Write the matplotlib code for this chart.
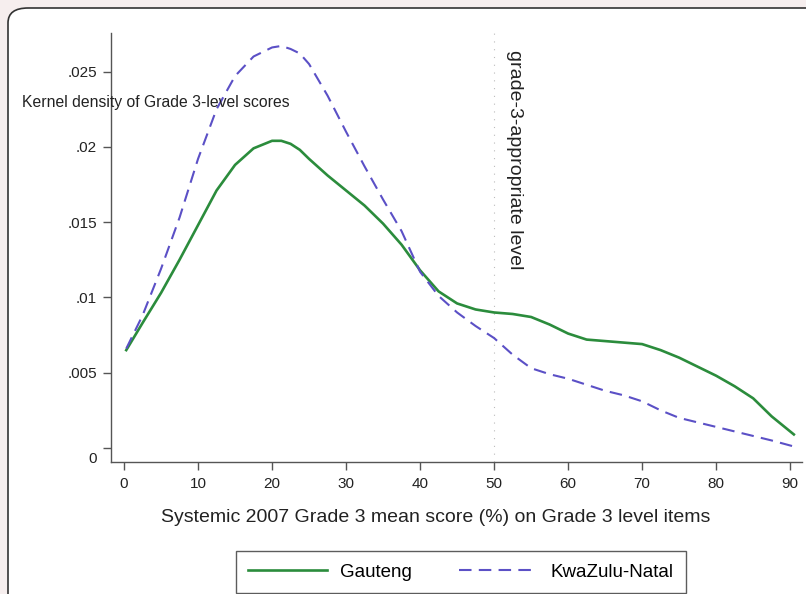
import matplotlib
matplotlib.use("Agg")
from matplotlib import pyplot as plt
from matplotlib.patches import FancyBboxPatch
from matplotlib.transforms import ScaledTranslation

plt.rcParams['font.family'] = ['Liberation Sans', 'DejaVu Sans']

# Kernel density curves
score = [0.3, 2.5, 5, 7.5, 10, 12.5, 15, 17.5, 20, 21.25, 22.5, 23.75, 25, 27.5, 30, 32.5,
         35, 37.5, 40, 42.5, 45, 47.5, 50, 52.5, 55, 57.5, 60, 62.5, 65, 67.5, 70, 72.5,
         75, 77.5, 80, 82.5, 85, 87.5, 90.5]
gauteng = [0.0065, 0.0083, 0.0103, 0.0125, 0.0148, 0.0171, 0.0188, 0.0199, 0.0204, 0.0204,
           0.0202, 0.0198, 0.0192, 0.0181, 0.0171, 0.0161, 0.0149, 0.0135, 0.0118, 0.0104,
           0.0096, 0.0092, 0.0090, 0.0089, 0.0087, 0.0082, 0.0076, 0.0072, 0.0071, 0.0070,
           0.0069, 0.0065, 0.0060, 0.0054, 0.0048, 0.0041, 0.0033, 0.0021, 0.0009]
kzn = [0.0066, 0.0088, 0.0119, 0.0153, 0.0192, 0.0225, 0.0247, 0.0260, 0.0266, 0.0267,
       0.0265, 0.0262, 0.0255, 0.0234, 0.0210, 0.0187, 0.0165, 0.0144, 0.0117, 0.0101,
       0.0090, 0.0081, 0.0073, 0.0062, 0.0053, 0.0049, 0.0046, 0.0042, 0.0038, 0.0035,
       0.0031, 0.0025, 0.0020, 0.0017, 0.0014, 0.0011, 0.0008, 0.0005, 0.0001]

xticks = [0, 10, 20, 30, 40, 50, 60, 70, 80, 90]
yticks = [0, 0.005, 0.01, 0.015, 0.02, 0.025]
ylabels = ['0', '.005', '.01', '.015', '.02', '.025']
level_line = 50

fig = plt.figure(figsize=(8.06, 5.94), dpi=100)
fig.patch.set_facecolor('#f6eeee')

# white rounded panel
W, H = 806.0, 594.0
panel = FancyBboxPatch((8 / W, -0.05), 1.1, 1 - 8 / H + 0.05,
                       boxstyle="round,pad=0,rounding_size=0.025",
                       transform=fig.transFigure, facecolor='white',
                       edgecolor='#333333', linewidth=1.2, zorder=-5)
fig.patches.append(panel)

ax = fig.add_axes([111 / W, 132 / H, 691 / W, 429 / H])
ax.set_facecolor('none')

ax.plot(score, gauteng, color='#2b8c3c', lw=1.9, label='Gauteng',
        solid_joinstyle='round')
ax.plot(score, kzn, color='#5b50c6', lw=1.5, dashes=(6, 3.5), label='KwaZulu-Natal')
ax.axvline(level_line, color='#bbbbbb', lw=0.8, ls=(0, (1, 6)), zorder=0)

ax.set_xlim(-1.76, 91.6)
ax.set_ylim(-0.00093, 0.02756)
ax.set_xticks(xticks)
ax.set_xticklabels([str(t) for t in xticks])
ax.set_yticks(yticks)
ax.set_yticklabels(ylabels)

for s in ['top', 'right']:
    ax.spines[s].set_visible(False)
for s in ['left', 'bottom']:
    ax.spines[s].set_color('#555555')
    ax.spines[s].set_linewidth(1.0)
ax.tick_params(direction='out', length=6, width=1, colors='#555555',
               labelcolor='#222222', labelsize=11)
ax.tick_params(axis='y', pad=4)
ax.tick_params(axis='x', pad=5)

# the "0" label sits a little below its tick in the original
zero = ax.get_yticklabels()[0]
zero.set_transform(zero.get_transform() + ScaledTranslation(0, -7 / 72, fig.dpi_scale_trans))

fig.text(436 / W, 1 - 517 / H,
         'Systemic 2007 Grade 3 mean score (%) on Grade 3 level items',
         fontsize=14, color='#222222', va='center', ha='center')

fig.text(22 / W, 1 - 103 / H, 'Kernel density of Grade 3-level scores',
         fontsize=11.3, color='#222222', va='center', ha='left')
fig.text(515 / W, 1 - 160 / H, 'grade-3-appropriate level', rotation=-90,
         fontsize=14, color='#222222', va='center', ha='center')

leg = fig.legend(loc='center', bbox_to_anchor=(461 / W, 1 - 572 / H), ncol=2,
                 fancybox=False, edgecolor='#333333', fontsize=13.5,
                 handlelength=4.2, columnspacing=2.5, borderpad=0.65,
                 handletextpad=0.7)
leg.get_frame().set_linewidth(1.0)

plt.savefig('out.png', dpi=100, facecolor=fig.get_facecolor())
